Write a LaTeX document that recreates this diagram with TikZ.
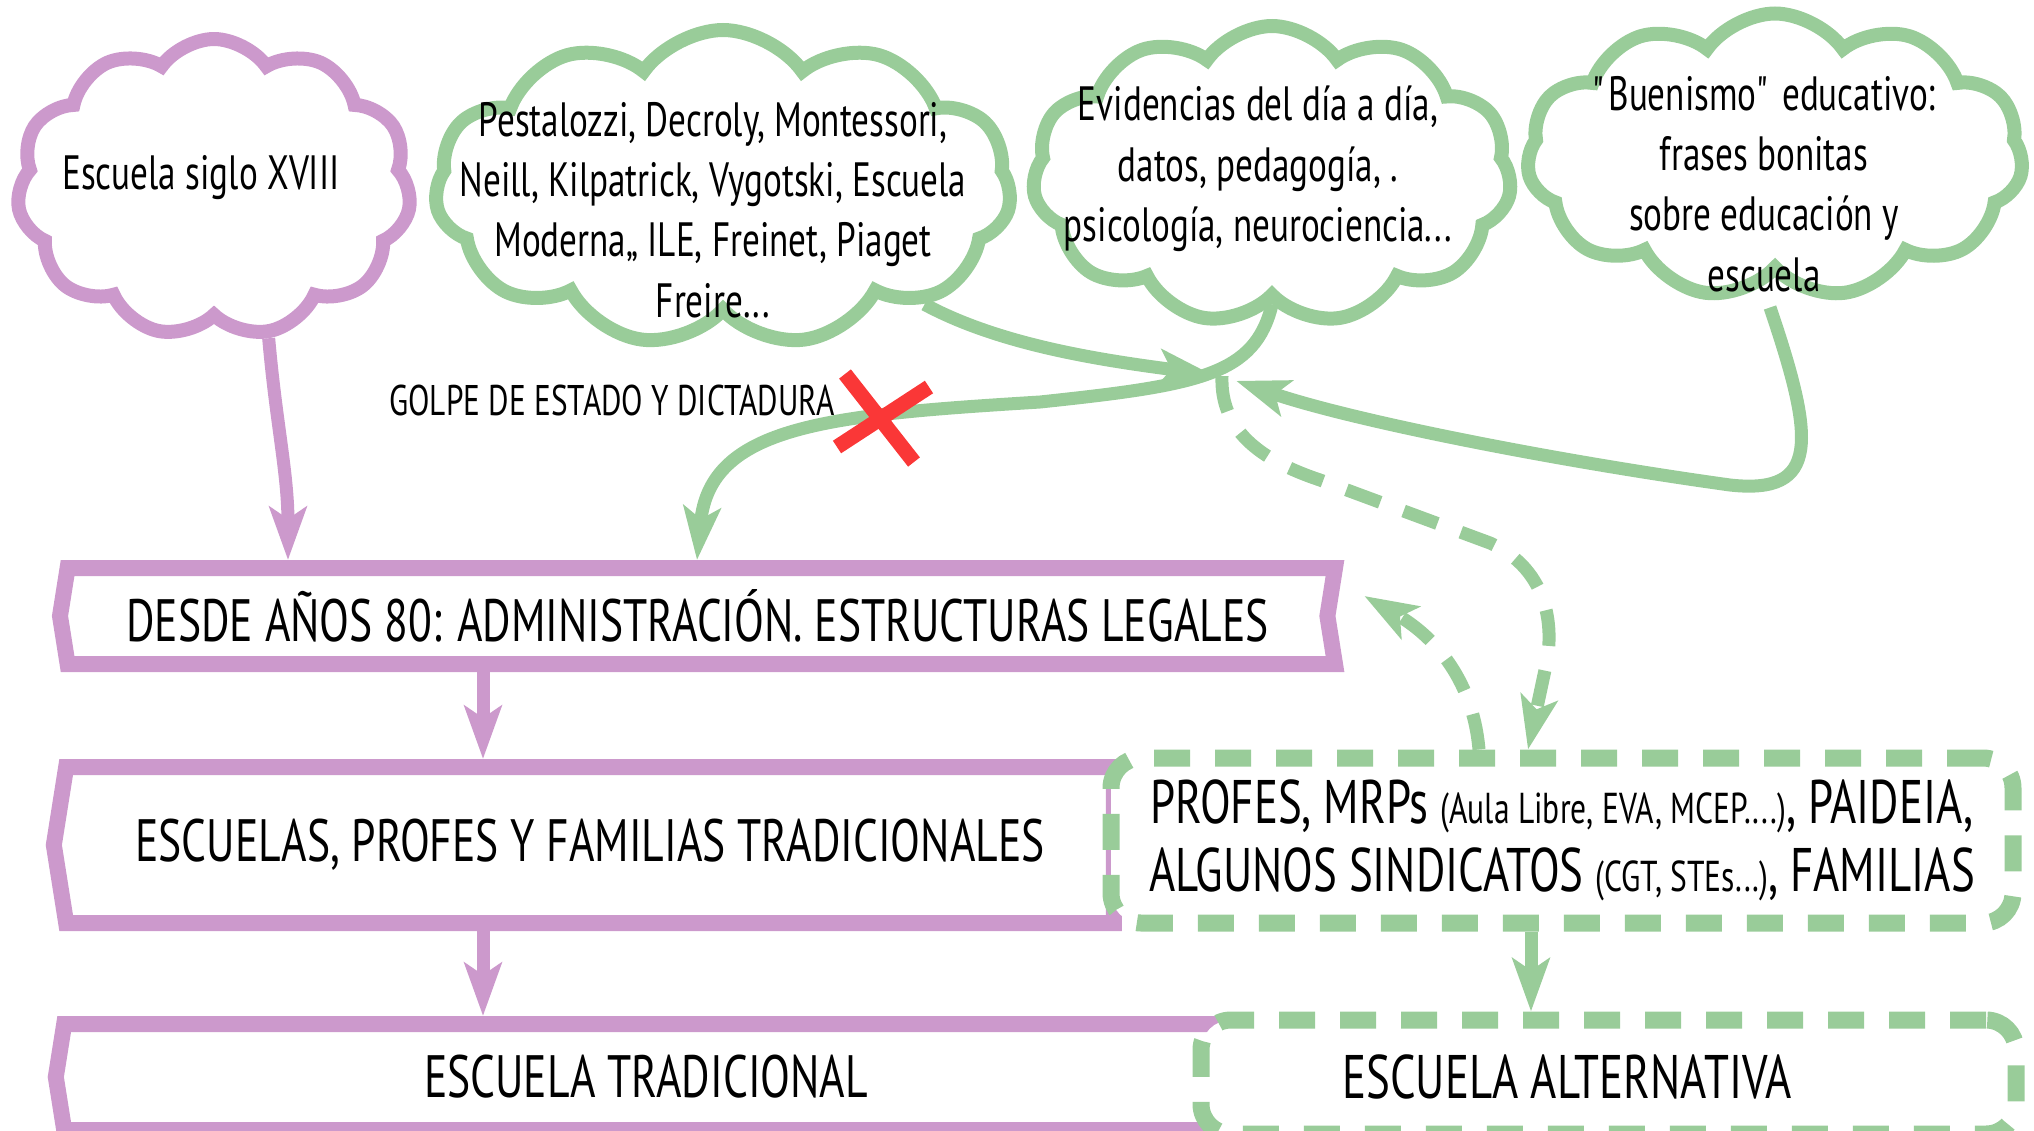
\documentclass[tikz,border=0pt]{standalone}
\usepackage{fontspec}
\setmainfont{PT Sans}[FakeStretch=0.73]
\usetikzlibrary{shapes.symbols,arrows.meta,calc}

\definecolor{lila}{RGB}{204,153,204}
\definecolor{verde}{RGB}{153,204,153}
\definecolor{rojo}{RGB}{250,55,55}
\newcommand\peq[1]{{\fontsize{12.3}{14}\selectfont #1}}

\begin{document}
\begin{tikzpicture}[
  nube/.style={cloud, cloud puffs=11, cloud puff arc=110, cloud ignores aspect, line width=1.4mm},
  nubetxt/.style={align=center, font=\fontsize{13.7}{17.2}\selectfont},
  caja/.style={signal, signal to=west, signal from=nowhere, signal pointer angle=162,
    draw=lila, fill=white, line width=1.6mm, inner sep=0pt, font=\fontsize{17}{20}\selectfont},
  alt/.style={rectangle, rounded corners=3mm, draw=verde, fill=white, line width=1.7mm,
    dash pattern=on 3.6mm off 2.5mm, inner sep=0pt},
  flecha/.style={-{Stealth[length=5.3mm,width=3.7mm,inset=1.2mm]}, line width=1.3mm},
  discont/.style={dash pattern=on 3.6mm off 2.5mm},
  cruz/.style={rojo, line width=1.5mm}
]
\useasboundingbox (0,0) rectangle (20.34,-11.31);
\clip (0,0) rectangle (20.34,-11.31);

% nubes
\node[nube, draw=lila, minimum width=3.94cm, minimum height=2.98cm] (siglo) at (2.14,-1.88) {};
\node[nube, draw=verde, minimum width=5.76cm, minimum height=3.16cm] (pest) at (7.23,-1.88) {};
\node[nube, draw=verde, minimum width=4.79cm, minimum height=2.98cm] (evid) at (12.72,-1.75) {};
\node[nube, draw=verde, minimum width=4.96cm, minimum height=2.85cm] (buen) at (17.75,-1.56) {};

\node[nubetxt] (tsiglo) at (2.01,-1.78) {Escuela siglo XVIII};
\node[nubetxt] (tpest) at (7.13,-2.10) {Pestalozzi, Decroly, Montessori,\\Neill, Kilpatrick, Vygotski, Escuela\\Moderna,, ILE, Freinet, Piaget\\Freire...};
\node[nubetxt] (tevid) at (12.58,-1.69) {Evidencias del día a día,\\datos, pedagogía, .\\psicología, neurociencia...};
\node[nubetxt] (tbuen) at (17.64,-1.84) {\textquotedbl Buenismo\textquotedbl{} educativo:\\frases bonitas\\sobre educación y\\escuela};

% cajas
\node[caja, signal from=east, minimum width=12.75cm, minimum height=0.96cm] (desde) at (6.975,-6.16) {DESDE AÑOS 80: ADMINISTRACIÓN. ESTRUCTURAS LEGALES};
\node[caja, minimum width=10.6cm, minimum height=1.56cm] (escuelas) at (5.90,-8.45) {ESCUELAS, PROFES Y FAMILIAS TRADICIONALES};
\node[caja, minimum width=11.72cm, minimum height=1.06cm] (trad) at (6.46,-10.77) {ESCUELA TRADICIONAL};

\node[alt, minimum width=9.02cm, minimum height=1.65cm, align=center,
  font=\fontsize{17.5}{19.5}\selectfont] (profes) at (15.62,-8.405)
  {PROFES, MRPs \peq{(Aula Libre, EVA, MCEP....)}, PAIDEIA,\\ALGUNOS SINDICATOS \peq{(CGT, STEs...)}, FAMILIAS};
\node[alt, minimum width=8.15cm, minimum height=1.14cm] (altern) at (16.085,-10.77) {};
\node[font=\fontsize{17.5}{20}\selectfont] (taltern) at (15.67,-10.77) {ESCUELA ALTERNATIVA};

\coordinate (cruce) at (12.22,-3.76);
\coordinate (golpe) at (8.82,-4.17);
\node[font=\fontsize{12.2}{14}\selectfont] (tgolpe) at (6.12,-4.0) {GOLPE DE ESTADO Y DICTADURA};

% flechas
\draw[flecha, lila] (siglo.-70) to[out=-85,in=90] (desde.north -| 2.88,0);
\draw[flecha, lila] (desde.south -| 4.83,0) -- (escuelas.north -| 4.83,0);
\draw[flecha, lila] (escuelas.south -| 4.83,0) -- (trad.north -| 4.83,0);
\draw[flecha, verde] (profes.south -| 15.31,0) -- (altern.north -| 15.31,0);

\draw[flecha, verde, shorten >=1mm] (pest.-30) .. controls (10.0,-3.45) and (11.0,-3.6) .. (cruce);
\draw[flecha, verde] (evid.south) .. controls (12.55,-3.75) and (12.0,-3.85) .. (10.4,-4.02)
  .. controls (8.3,-4.15) and (7.1,-4.25) .. (desde.north -| 6.97,0);
\draw[flecha, verde, shorten >=1.5mm] ($(buen.south)+(-0.05,-0.3)$) .. controls (18.15,-4.4) and (18.2,-4.95) .. (17.3,-4.85)
  .. controls (15.5,-4.6) and (13.5,-4.2) .. (cruce);

\draw[flecha, verde, discont] (cruce) .. controls (12.2,-4.3) and (12.6,-4.6) .. (13.2,-4.8)
  -- (14.9,-5.43) .. controls (15.5,-5.7) and (15.55,-6.3) .. (15.45,-6.7) -- (profes.north -| 15.28,0);
\draw[flecha, verde, discont] (profes.north -| 14.79,0) to[out=95,in=-30] ($(desde.north east)+(0.2,-0.36)$);

\draw[cruz] (8.45,-3.74) -- (9.14,-4.62);
\draw[cruz] (8.37,-4.47) -- (9.29,-3.87);
\end{tikzpicture}
\end{document}
